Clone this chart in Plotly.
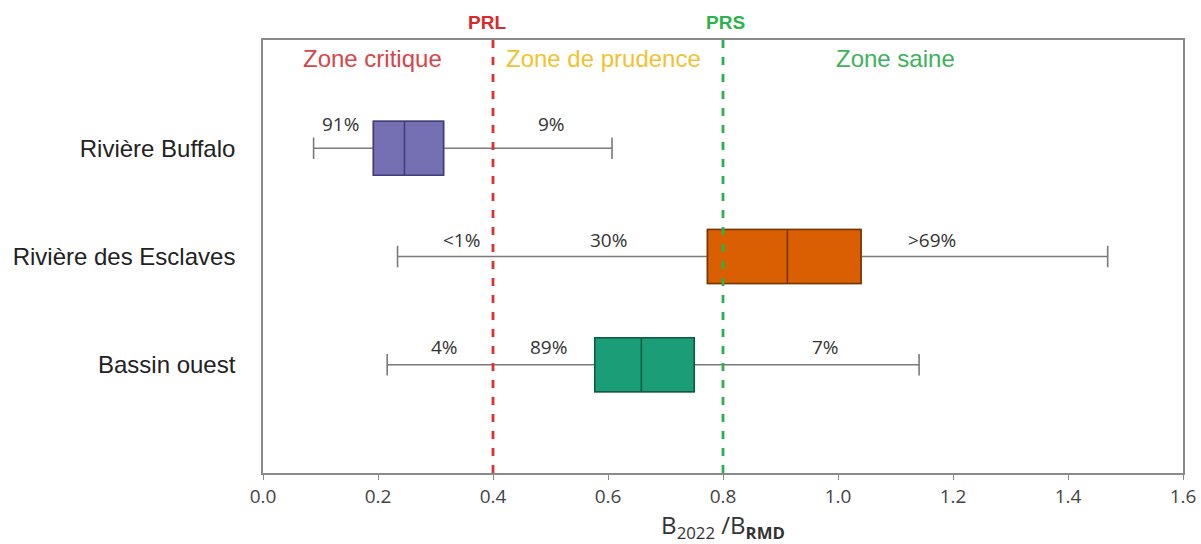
import plotly.graph_objects as go

# Stock status per area: biomass ratio B2022 / B_RMD
areas = ["Rivière Buffalo", "Rivière des Esclaves", "Bassin ouest"]
whisker_low = [0.088, 0.234, 0.216]
q1 = [0.192, 0.773, 0.577]
median = [0.246, 0.912, 0.658]
q3 = [0.314, 1.040, 0.750]
whisker_high = [0.607, 1.469, 1.141]
box_fill = ["#7570b3", "#d95f02", "#1b9e77"]
box_edge = ["#433e7a", "#7a3400", "#0e5a43"]

# Reference points
prl = 0.4
prs = 0.8

# Probability labels per area: (x, y, text)
pct_x = [0.134, 0.502, 0.346, 0.600, 1.163, 0.315, 0.496, 0.979]
pct_y = [-0.22, -0.22, 0.85, 0.85, 0.85, 1.84, 1.84, 1.84]
pct_text = ["91%", "9%", "<1%", "30%", ">69%", "4%", "89%", "7%"]

zone_x = [0.19, 0.593, 1.10]
zone_text = ["Zone critique", "Zone de prudence", "Zone saine"]
zone_color = ["#d9434a", "#f1c232", "#3cb35a"]

x_ticks = [0.0, 0.2, 0.4, 0.6, 0.8, 1.0, 1.2, 1.4, 1.6]
tick_text = ["0.0", "0.2", "0.4", "0.6", "0.8", "1.0", "1.2", "1.4", "1.6"]

fig = go.Figure()

for i, name in enumerate(areas):
    # whiskers (gray) drawn underneath
    fig.add_trace(go.Box(
        y=[i], orientation="h",
        q1=[q1[i]], median=[median[i]], q3=[q3[i]],
        lowerfence=[whisker_low[i]], upperfence=[whisker_high[i]],
        width=0.5, whiskerwidth=0.4,
        fillcolor="rgba(0,0,0,0)",
        line=dict(color="#7a7a7a", width=1.6),
        hoverinfo="skip", showlegend=False,
    ))
    # coloured interquartile box on top
    fig.add_trace(go.Box(
        y=[i], orientation="h",
        q1=[q1[i]], median=[median[i]], q3=[q3[i]],
        lowerfence=[q1[i]], upperfence=[q3[i]],
        width=0.5, whiskerwidth=0,
        fillcolor=box_fill[i],
        line=dict(color=box_edge[i], width=1.6),
        name=name, showlegend=False,
    ))

# PRL / PRS dashed reference lines
for xv, col in [(prl, "#e0302c"), (prs, "#2bb24c")]:
    fig.add_trace(go.Scatter(
        x=[xv, xv], y=[-1, 3], mode="lines",
        line=dict(color=col, width=2.8, dash="8px,9px"),
        hoverinfo="skip", showlegend=False,
    ))

annotations = []
for x, y, t in zip(pct_x, pct_y, pct_text):
    annotations.append(dict(
        x=x, y=y, xref="x", yref="y", text=t, showarrow=False,
        font=dict(family="Open Sans", size=19, color="#333333"),
    ))
for x, t, c in zip(zone_x, zone_text, zone_color):
    annotations.append(dict(
        x=x, y=-0.83, xref="x", yref="y", text=t, showarrow=False,
        font=dict(family="Liberation Sans, Arial", size=24, color=c),
    ))
annotations.append(dict(
    x=0.39, y=1, xref="x", yref="paper", yanchor="bottom", yshift=5,
    text="<b>PRL</b>", showarrow=False,
    font=dict(family="Liberation Sans, Arial", size=19, color="#d92b2b"),
))
annotations.append(dict(
    x=prs + 0.005, y=1, xref="x", yref="paper", yanchor="bottom", yshift=5,
    text="<b>PRS</b>", showarrow=False,
    font=dict(family="Liberation Sans, Arial", size=19, color="#2db34a"),
))

fig.update_layout(
    width=1201, height=544,
    margin=dict(l=263, r=18, t=40, b=71),
    paper_bgcolor="white", plot_bgcolor="white",
    boxmode="overlay",
    annotations=annotations,
    xaxis=dict(
        range=[0, 1.6], tickvals=x_ticks, ticktext=tick_text,
        automargin=False,
        showgrid=False, zeroline=False,
        showline=True, linecolor="#8a8a8a", linewidth=1.6, mirror=True,
        ticks="outside", ticklen=5, tickcolor="#8a8a8a",
        tickfont=dict(family="Open Sans", size=19, color="#444444"),
        title=dict(
            text="B<sub>2022</sub> /B<sub><b>RMD</b></sub>",
            font=dict(family="Open Sans", size=24, color="#333333"),
            standoff=2,
        ),
    ),
    yaxis=dict(
        range=[3, -1], tickvals=[0, 1, 2], ticktext=areas,
        automargin=False,
        showgrid=False, zeroline=False,
        showline=True, linecolor="#8a8a8a", linewidth=1.6, mirror=True,
        ticks="", ticklabelstandoff=21,
        tickfont=dict(family="Liberation Sans, Arial", size=24, color="#222222"),
    ),
)

fig.write_html("out.html")
